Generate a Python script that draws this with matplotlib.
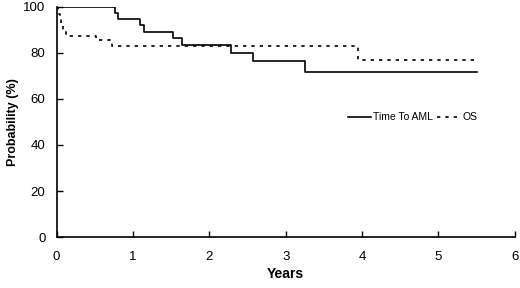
import matplotlib.pyplot as plt

plt.rcParams['font.family'] = ['Liberation Sans', 'DejaVu Sans']

# Kaplan-Meier style step curves (years, probability %)
aml_years = [0, 0.765, 0.81, 1.09, 1.14, 1.52, 1.64, 2.28, 2.57, 3.25, 5.51]
aml_prob = [100, 97.3, 94.8, 92.2, 89.3, 86.4, 83.5, 80.0, 76.5, 71.7, 71.7]

os_years = [0, 0.02, 0.04, 0.06, 0.09, 0.12, 0.52, 0.72, 3.95, 5.51]
os_prob = [100, 97.0, 94.5, 92.0, 89.5, 87.4, 85.6, 83.0, 76.8, 76.8]

xticks = [0, 1, 2, 3, 4, 5, 6]
yticks = [0, 20, 40, 60, 80, 100]

fig = plt.figure(figsize=(5.2, 2.88), dpi=100)
ax = fig.add_axes([0.1087, 0.177, 0.8813, 0.799])

ax.step(aml_years, aml_prob, where='post', color='black', lw=1.2, label='Time To AML')
ax.step(os_years, os_prob, where='post', color='black', lw=1.2,
        linestyle=(0, (2, 3)), label='OS')

ax.set_xlim(0, 6)
ax.set_ylim(0, 100)
ax.set_xticks(xticks)
ax.set_yticks(yticks)
ax.tick_params(direction='in', length=4, width=1, labelsize=9.5)
ax.tick_params(axis='x', pad=10)
ax.tick_params(axis='y', pad=8)
for side in ['top', 'right']:
    ax.spines[side].set_visible(False)
for side in ['left', 'bottom']:
    ax.spines[side].set_linewidth(1.2)

ax.set_xlabel('Years', fontsize=10, fontweight='bold', labelpad=3)
ax.set_ylabel('Probability (%)', fontsize=9, fontweight='bold', labelpad=3)

ax.legend(loc='center left', bbox_to_anchor=(0.625, 0.52), ncol=2, frameon=False,
          fontsize=7.5, handlelength=2.2, handletextpad=0.2, columnspacing=0.4,
          borderpad=0)

fig.savefig('out.png', dpi=100, facecolor='white')
